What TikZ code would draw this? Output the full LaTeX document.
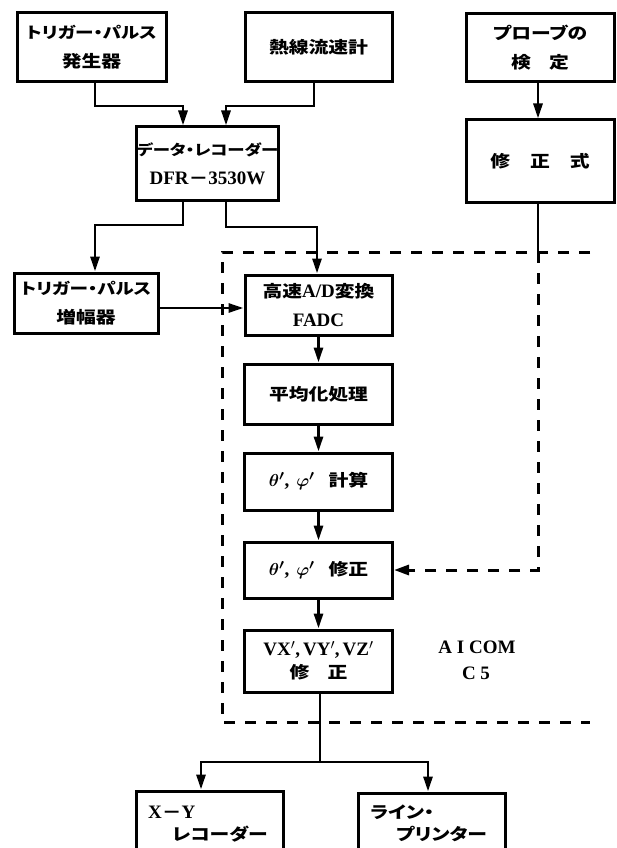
\documentclass[tikz,border=0pt]{standalone}
\usepackage{fontspec}
\setmainfont{Liberation Serif}
\newfontfamily\jpfam[FakeStretch=1.2,RawFeature=+palt]{Noto Sans CJK JP}
\usetikzlibrary{arrows.meta}
\newcommand\jpt{\jpfam\bfseries\fontsize{16.5}{29}\selectfont}
\newcommand\jps{\jpfam\bfseries\fontsize{15.5}{29}\selectfont}
\newcommand\latt{\rmfamily\bfseries\fontsize{19}{29}\selectfont}
\tikzset{
  box/.style={draw, line width=3pt, inner sep=0pt, align=center, font=\jpt},
  conn/.style={line width=2.8pt},
  arr/.style={conn, -{Triangle[length=15pt,width=9pt]}},
  dsh/.style={line width=3pt, dash pattern=on 11pt off 10pt},
  lbl/.style={inner sep=0pt, anchor=west},
}
\begin{document}
\begin{tikzpicture}[x=1pt,y=-1pt]
\useasboundingbox (0,0) rectangle (617,848);
% boxes
\node[box, minimum width=149pt, minimum height=69pt] (b1) at (91.5,47.5) {{\jps トリガー・パルス}\\発生器};
\node[box, minimum width=147pt, minimum height=69pt] (b2) at (318.5,47.5) {熱線流速計};
\node[box, minimum width=148pt, minimum height=68pt] (b3) at (540,48) {プローブの\\検\hspace{18pt}定};
\node[box, minimum width=141pt, minimum height=73pt] (b4) at (207.5,163.5) {{\jpfam\bfseries\fontsize{14.5}{29}\selectfont データ・レコーダー}\\{\latt DFR}{\jpt －}{\latt 3530W}};
\node[box, minimum width=148pt, minimum height=82pt] (b5) at (540,161) {修\hspace{20pt}正\hspace{20pt}式};
\node[box, minimum width=144pt, minimum height=60pt] (b6) at (86,303) {{\jps トリガー・パルス}\\増幅器};
\node[box, minimum width=147pt, minimum height=60pt] (b7) at (318.5,305) {高速{\latt A/D}変換\\{\latt FADC}};
\node[box, minimum width=148pt, minimum height=60pt] (b8) at (318.5,394) {平均化処理};
\node[box, minimum width=148pt, minimum height=57pt] (b9) at (318.5,481.5) {{\latt\boldmath$\theta'$,\hspace{7pt}$\varphi'$}\hspace{14pt}計算};
\node[box, minimum width=148pt, minimum height=56pt] (b10) at (318.5,570) {{\latt\boldmath$\theta'$,\hspace{7pt}$\varphi'$}\hspace{14pt}修正};
\node[box, minimum width=148pt, minimum height=62pt] (b11) at (318.5,661) {{\latt VX$'$,\hspace{3pt}VY$'$,\hspace{3pt}VZ$'$}\\[-6pt]修\hspace{18pt}正};
\node[box, minimum width=147pt, minimum height=100pt] (bxy) at (209.5,841) {};
\node[box, minimum width=147pt, minimum height=100pt] (blp) at (431.5,843) {};
% bottom box texts
\node[lbl, font=\latt] (xy1) at (148,812) {X{\jpt －}Y};
\node[lbl, font=\jpt] (xy2) at (172,834) {レコーダー};
\node[lbl, font=\jpt] (lp1) at (370,812) {ライン・};
\node[lbl, font=\jpt] (lp2) at (396,834) {プリンター};
% AICOM label
\node[inner sep=0pt, font=\latt] (aicom) at (477,647) {A I COM};
\node[inner sep=0pt, font=\latt] (c5) at (476,673) {C 5};
% helper coordinates
\coordinate (c1) at (95,106);
\coordinate (c2) at (314,106);
\coordinate (xl) at (183,0);
\coordinate (xr) at (226,0);
\coordinate (c3) at (183,225);
\coordinate (c4) at (226,227);
\coordinate (xm) at (317,0);
\coordinate (h67) at (0,308);
\coordinate (tapT) at (538,252);
\coordinate (fb) at (538,570);
\coordinate (sp) at (320,762);
\coordinate (xa) at (201,0);
\coordinate (xb) at (428,0);
% dashed frame
\draw[dsh] (590,252) -- (222,252) -- (222,722) -- (590,722);
% connectors
\draw[arr] (b1.south -| c1) -- (c1) -| (b4.north -| xl);
\draw[arr] (b2.south -| c2) -- (c2) -| (b4.north -| xr);
\draw[arr] (b4.south -| xl) -- (c3) -| (b6.north -| c1);
\draw[arr] (b4.south -| xr) -- (c4) -| (b7.north -| xm);
\draw[arr] (b3.south -| tapT) -- (b5.north -| tapT);
\draw[arr] (b6.east |- h67) -- (b7.west |- h67);
\draw[arr] (b7.south) -- (b8.north);
\draw[arr] (b8.south) -- (b9.north);
\draw[arr] (b9.south) -- (b10.north);
\draw[arr] (b10.south) -- (b11.north);
\draw[conn] (b5.south -| tapT) -- (tapT);
\draw[dsh, -{Triangle[length=15pt,width=10pt]}] (tapT) -- (fb) -- (b10.east |- fb);
\draw[conn] (b11.south -| sp) -- (sp);
\draw[arr] (sp) -| (bxy.north -| xa);
\draw[arr] (sp) -| (blp.north -| xb);
\end{tikzpicture}
\end{document}
